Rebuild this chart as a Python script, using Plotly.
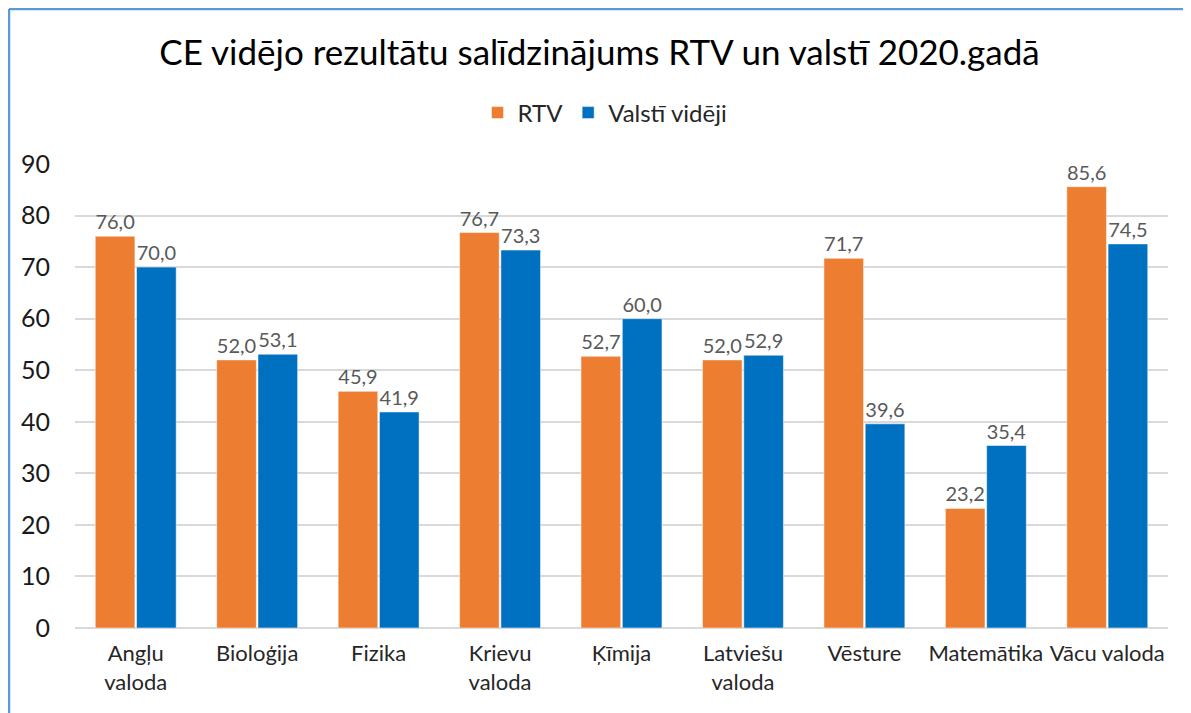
import plotly.graph_objects as go

categories = ["Angļu<br>valoda", "Bioloģija", "Fizika", "Krievu<br>valoda", "Ķīmija",
              "Latviešu<br>valoda", "Vēsture", "Matemātika", "Vācu valoda"]
rtv = [76.0, 52.0, 45.9, 76.7, 52.7, 52.0, 71.7, 23.2, 85.6]
valsti = [70.0, 53.1, 41.9, 73.3, 60.0, 52.9, 39.6, 35.4, 74.5]
y_ticks = [0, 10, 20, 30, 40, 50, 60, 70, 80, 90]

FONT = "Lato, 'Open Sans', sans-serif"
# page body has an 8px margin, so figure is drawn 8px right/down
OFF = 8
W, H = 1191 - OFF, 713 - OFF
ML, MT = 75 - OFF, 164 - OFF
MR = W - (1168 - OFF)
MB = H - (628 - OFF)

LABEL_FONT = dict(size=20, color="#595959", family=FONT)

fig = go.Figure()
fig.add_trace(go.Bar(name="RTV", x=categories, y=rtv, marker_color="#ED7D31",
                     marker_line=dict(color="white", width=0.5),
                     texttemplate="%{y:.1f}", textposition="outside",
                     textfont=LABEL_FONT, cliponaxis=False))
fig.add_trace(go.Bar(name="Valstī vidēji", x=categories, y=valsti, marker_color="#0070C0",
                     marker_line=dict(color="white", width=0.5),
                     texttemplate="%{y:.1f}", textposition="outside",
                     textfont=LABEL_FONT, cliponaxis=False))

pw = W - ML - MR
ph = H - MT - MB
fx = (1 - ML) / pw
fy = 1 + (MT - 1) / ph
fig.add_shape(type="line", xref="paper", yref="paper", x0=fx, x1=fx, y0=-1, y1=fy,
              line=dict(color="#5B9BD5", width=2.5))
fig.add_shape(type="line", xref="paper", yref="paper", x0=fx, x1=2, y0=fy, y1=fy,
              line=dict(color="#5B9BD5", width=2.5))

fig.update_layout(
    width=W, height=H,
    margin=dict(l=ML, r=MR, t=MT, b=MB, autoexpand=False),
    paper_bgcolor="white", plot_bgcolor="white",
    separators=", ",
    barmode="group", bargap=0.32, bargroupgap=0.04,
    title=dict(text="CE vidējo rezultātu salīdzinājums RTV un valstī 2020.gadā",
               x=0.5, xanchor="center", y=1 - 45 / H, yanchor="middle",
               font=dict(size=35, color="#000000", family=FONT)),
    legend=dict(orientation="h", x=(605 - OFF - ML) / pw, xanchor="center",
                y=1 + (MT - 105) / ph, yanchor="middle",
                font=dict(size=24, color="#262626", family=FONT), traceorder="normal",
                itemwidth=30),
    font=dict(family=FONT),
)
fig.update_yaxes(range=[0, 90], tickvals=y_ticks, showgrid=True, gridcolor="#D9D9D9", gridwidth=1.5,
                 zeroline=True, zerolinecolor="#D9D9D9", zerolinewidth=1.5,
                 tickfont=dict(size=25, color="#1a1a1a", family=FONT), ticklabelstandoff=24)
fig.update_xaxes(showline=False, tickangle=0, automargin=False,
                 tickfont=dict(size=22, color="#262626", family=FONT),
                 ticklabelstandoff=10)

fig.write_html("out.html")
